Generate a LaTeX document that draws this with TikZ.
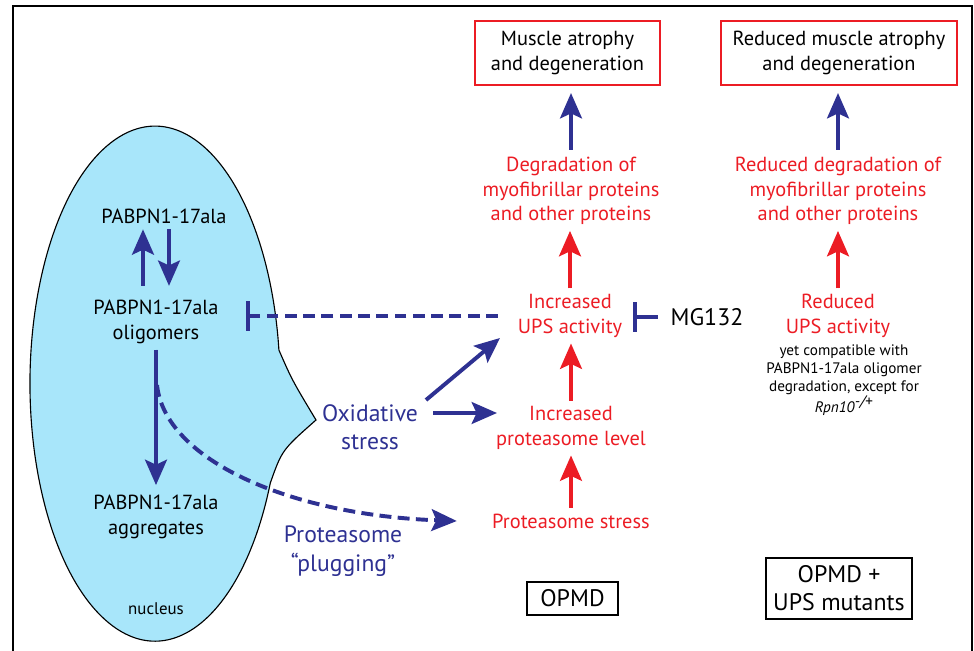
\documentclass[tikz,border=0pt]{standalone}
\usepackage{fontspec}
\setmainfont{PT Sans}
\usetikzlibrary{arrows.meta}
\definecolor{upsred}{RGB}{236,28,36}
\definecolor{navy}{RGB}{46,49,146}
\definecolor{nucfill}{RGB}{168,230,250}
\tikzset{
  txt/.style={align=center,inner sep=1pt,font=\fontsize{14.5}{17.6}\selectfont},
  redtxt/.style={txt,text=upsred},
  bluetxt/.style={txt,text=navy,font=\fontsize{16.8}{20.2}\selectfont},
  smalltxt/.style={align=center,inner sep=1pt,font=\fontsize{10.8}{12.8}\selectfont},
  redbox/.style={txt,draw=upsred,line width=1.4pt},
  blkbox/.style={txt,draw=black,line width=1.4pt,font=\fontsize{17}{20}\selectfont},
  head/.style={-{Stealth[length=18pt,width=15.5pt,inset=3.5pt]}},
  barr/.style={head,draw=navy,fill=navy,line width=2.8pt},
  rarr/.style={head,draw=upsred,fill=upsred,line width=2.8pt},
  bdash/.style={draw=navy,line width=2.8pt,dash pattern=on 8.5pt off 4.5pt},
  stopper/.style={-{Bar[width=21pt,line width=2.8pt]}}
}
\begin{document}
\begin{tikzpicture}[x=0.025cm,y=-0.025cm]
  \useasboundingbox (0,0) rectangle (974,651);
  \draw[line width=1.4pt] (13,6) rectangle (972,700);
  \filldraw[fill=nucfill,draw=black,line width=0.8pt] (270.3,483)
    arc[start angle=22.7,end angle=352.5,x radius=125,y radius=257.5]
    .. controls (292,380) .. (316,420) .. controls (282,450) .. (270.3,483) -- cycle;

  \node[redbox,minimum width=185*0.025cm,minimum height=64*0.025cm] (muscL) at (567.5,53) {Muscle atrophy\\and degeneration};
  \node[redbox,minimum width=236*0.025cm,minimum height=64*0.025cm] (muscR) at (839,53) {Reduced muscle atrophy\\and degeneration};
  \node[redtxt] (degL) at (571,191) {Degradation of\\myofibrillar proteins\\and other proteins};
  \node[redtxt] (degR) at (838,191) {Reduced degradation of\\myofibrillar proteins\\and other proteins};
  \node[redtxt] (upsL) at (570,316) {Increased\\UPS activity};
  \node[redtxt] (upsR) at (838,316) {Reduced\\UPS activity};
  \node[smalltxt] (compat) at (844,380) {yet compatible with\\PABPN1-17ala oligomer\\degradation, except for\\\textit{Rpn10}$^{\textit{-/+}}$};
  \node[txt,font=\fontsize{17}{20}\selectfont] (mg) at (707,317) {MG132};
  \node[redtxt] (prolev) at (571,428) {Increased\\proteasome level};
  \node[redtxt] (stress) at (571,521) {Proteasome stress};
  \node[blkbox,minimum width=91*0.025cm,minimum height=33*0.025cm] (opmd) at (572.5,598.5) {OPMD};
  \node[blkbox,minimum width=146*0.025cm,minimum height=61*0.025cm] (opmdR) at (839,588.5) {OPMD +\\UPS mutants};

  \node[txt] (pab) at (164,216) {PABPN1-17ala};
  \node[txt] (olig) at (156,322) {PABPN1-17ala\\oligomers};
  \node[txt] (aggr) at (156,517) {PABPN1-17ala\\aggregates};
  \node[smalltxt,font=\fontsize{12}{14}\selectfont] (nuc) at (156,609) {nucleus};
  \node[bluetxt] (oxi) at (370,427) {Oxidative\\stress};
  \node[bluetxt] (plug) at (343,551) {Proteasome\\“plugging”};
  \coordinate (plugfrom) at (157,385);

  \draw[barr,shorten <=4pt,shorten >=5pt] (degL.north) -- (degL.north |- muscL.south);
  \draw[barr,shorten <=4pt,shorten >=5pt] (degR.north) -- (degR.north |- muscR.south);
  \draw[rarr,shorten <=3pt,shorten >=3pt] (upsL.north) -- (upsL.north |- degL.south);
  \draw[rarr,shorten <=3pt,shorten >=3pt] (upsR.north) -- (upsR.north |- degR.south);
  \draw[rarr,shorten <=3pt,shorten >=3pt] (prolev.north) -- (prolev.north |- upsL.south);
  \draw[rarr,shorten <=3pt,shorten >=3pt] (stress.north) -- (stress.north |- prolev.south);
  \draw[barr,stopper,shorten <=8pt,shorten >=6.4pt] (mg.west) -- (mg.west -| upsL.east);
  \draw[bdash,stopper,shorten <=13pt,shorten >=18.5pt] (upsL.west) -- (upsL.west -| olig.east);

  \draw[barr,shorten <=9pt,shorten >=3pt] (olig.north -| 143,0) -- (pab.south -| 143,0);
  \draw[barr,shorten <=3pt,shorten >=9pt] (pab.south -| 169,0) -- (olig.north -| 169,0);
  \draw[barr,shorten <=3pt,shorten >=6pt] (olig.south) -- (olig.south |- aggr.north);
  \draw[bdash,head] (plugfrom) .. controls (165,460) and (290,515) .. ([xshift=-24pt]stress.west);

  \draw[barr] ([shift={(56,-27)}]oxi.center) -- ([shift={(-70,22)}]upsL.center);
  \draw[barr] ([shift={(63,-14)}]oxi.center) -- ([shift={(-74,-15)}]prolev.center);
\end{tikzpicture}
\end{document}
